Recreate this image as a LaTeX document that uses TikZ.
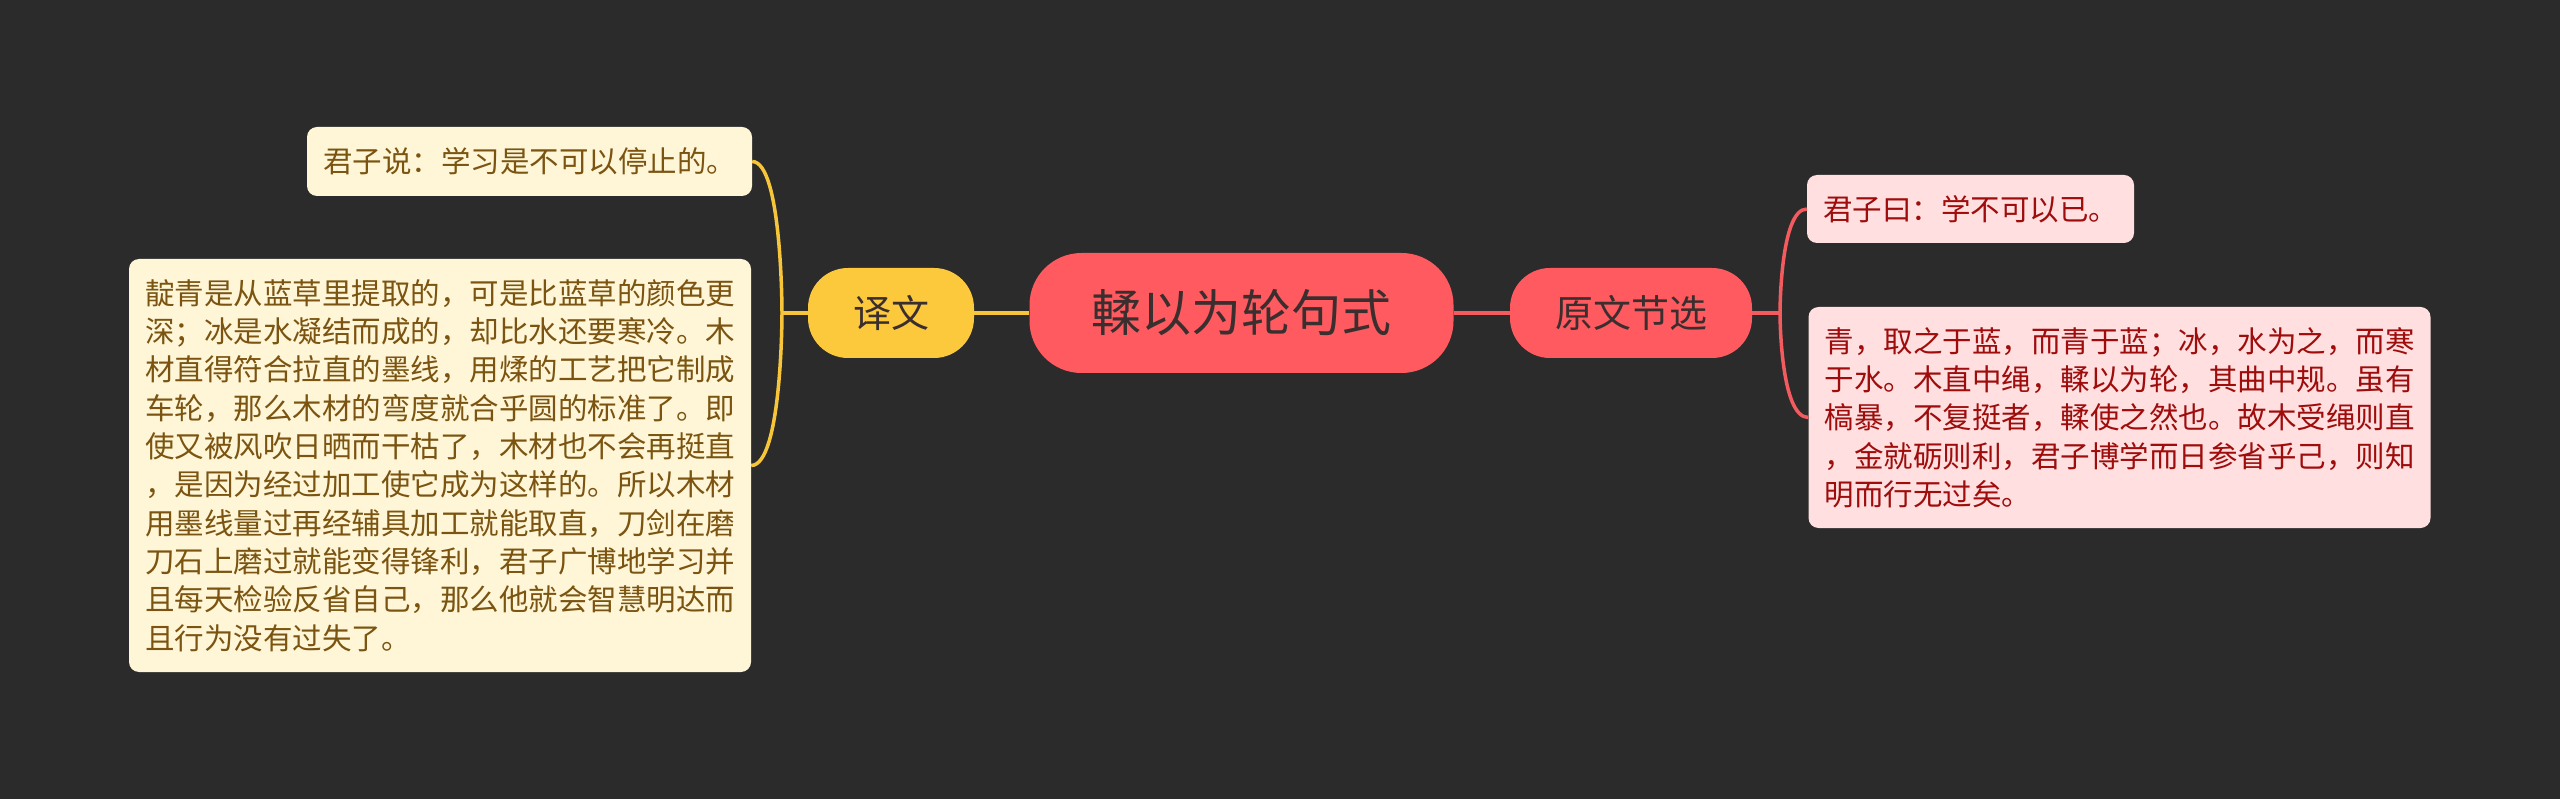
\documentclass[tikz,border=0pt]{standalone}
\usepackage{fontspec}
\newfontfamily\cjk{Noto Sans CJK SC}
\definecolor{bgc}{HTML}{2B2B2B}
\definecolor{rootc}{HTML}{FF5A5F}
\definecolor{yelc}{HTML}{FCC83C}
\definecolor{creamc}{HTML}{FFF6D8}
\definecolor{pinkc}{HTML}{FFDFDF}
\definecolor{brownt}{HTML}{7A5410}
\definecolor{redt}{HTML}{9E0C0C}
\definecolor{darkt}{HTML}{3A2E2E}
\definecolor{ylink}{HTML}{F7C53A}
\definecolor{rlink}{HTML}{F35B5E}
\begin{document}
\begin{tikzpicture}[x=1pt,y=-1pt,
  rootnode/.style={fill=rootc, rounded corners=52pt, minimum width=424pt, minimum height=120pt, inner sep=0pt, text=darkt, font=\cjk\fontsize{50}{60}\selectfont},
  branchnode/.style={rounded corners=40pt, minimum height=90pt, inner sep=0pt, text=darkt, font=\cjk\fontsize{38}{46}\selectfont},
  leafnode/.style={rounded corners=10pt, inner xsep=16pt, inner ysep=0pt, align=left, font=\cjk\fontsize{29.5}{38.3}\selectfont},
  leafL/.style={leafnode, fill=creamc, text=brownt},
  leafR/.style={leafnode, fill=pinkc, text=redt},
  ylinkst/.style={draw=ylink, line width=3.5pt},
  rlinkst/.style={draw=rlink, line width=3.5pt},
]
\fill[bgc] (0,0) rectangle (2560,799);
\useasboundingbox (0,0) rectangle (2560,799);

\node[rootnode] (root) at (1241.5,313) {輮以为轮句式};
\node[branchnode, fill=yelc, minimum width=166pt] (yw) at (891,313) {译文};
\node[branchnode, fill=rootc, minimum width=242pt] (ywjx) at (1631,313) {原文节选};

\node[leafL, minimum height=69pt] (l1) at (529.5,161.5) {君子说：学习是不可以停止的。};
\node[leafL, minimum height=413pt] (l2) at (440,465.5) {靛青是从蓝草里提取的，可是比蓝草的颜色更\\深；冰是水凝结而成的，却比水还要寒冷。木\\材直得符合拉直的墨线，用煣的工艺把它制成\\车轮，那么木材的弯度就合乎圆的标准了。即\\使又被风吹日晒而干枯了，木材也不会再挺直\\，是因为经过加工使它成为这样的。所以木材\\用墨线量过再经辅具加工就能取直，刀剑在磨\\刀石上磨过就能变得锋利，君子广博地学习并\\且每天检验反省自己，那么他就会智慧明达而\\且行为没有过失了。};

\node[leafR, minimum height=68pt] (r1) at (1970.5,209) {君子曰：学不可以已。};
\node[leafR, minimum height=221pt] (r2) at (2119.5,417.5) {青，取之于蓝，而青于蓝；冰，水为之，而寒\\于水。木直中绳，輮以为轮，其曲中规。虽有\\槁暴，不复挺者，輮使之然也。故木受绳则直\\，金就砺则利，君子博学而日参省乎己，则知\\明而行无过矣。};

\coordinate (jl) at (782,313);
\coordinate (jr) at (1780,313);

\draw[ylinkst] (root.west) -- (yw.east);
\draw[ylinkst] (yw.west) -- (jl);
\draw[ylinkst] (jl) .. controls (jl) and (jl |- l1.east) .. (l1.east);
\draw[ylinkst] (jl) .. controls (jl) and (jl |- l2.east) .. (l2.east);

\draw[rlinkst] (root.east) -- (ywjx.west);
\draw[rlinkst] (ywjx.east) -- (jr);
\draw[rlinkst] (jr) .. controls (jr) and (jr |- r1.west) .. (r1.west);
\draw[rlinkst] (jr) .. controls (jr) and (jr |- r2.west) .. (r2.west);
\end{tikzpicture}
\end{document}
